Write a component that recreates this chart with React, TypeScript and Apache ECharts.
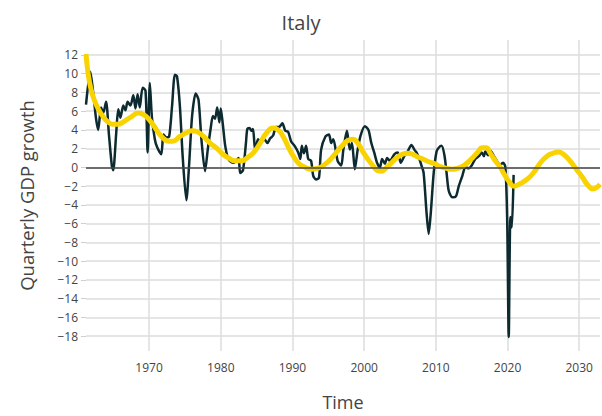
import React, { useEffect, useRef } from "react";
import * as echarts from "echarts";

// Quarterly GDP growth
const GDP_YEARS = [
  1961.2, 1961.8, 1962.2, 1962.6, 1962.9, 1963.3, 1963.6, 1964.0, 1964.4, 1964.8,
  1965.0, 1965.4, 1965.7, 1966.0, 1966.4, 1966.7, 1967.0, 1967.4, 1967.8, 1968.1,
  1968.4, 1968.7, 1969.1, 1969.5, 1969.8, 1970.1, 1970.4, 1970.8, 1971.1, 1971.7,
  1972.0, 1972.4, 1972.8, 1973.2, 1973.6, 1973.9, 1974.3, 1974.7, 1975.2, 1975.6,
  1976.0, 1976.5, 1976.9, 1977.3, 1977.8, 1978.2, 1978.6, 1978.9, 1979.2, 1979.5,
  1979.8, 1980.0, 1980.3, 1980.6, 1981.0, 1981.4, 1981.8, 1982.2, 1982.5, 1982.7,
  1983.1, 1983.5, 1983.7, 1984.0, 1984.3, 1984.5, 1984.8, 1985.2, 1985.6, 1986.1,
  1986.5, 1986.9, 1987.3, 1987.7, 1988.1, 1988.6, 1989.0, 1989.4, 1989.8, 1990.3,
  1990.8, 1991.1, 1991.3, 1991.6, 1991.9, 1992.2, 1992.6, 1992.9, 1993.3, 1993.7,
  1994.0, 1994.6, 1995.1, 1995.4, 1995.7, 1996.3, 1996.8, 1997.1, 1997.6, 1998.0,
  1998.3, 1998.7, 1999.1, 1999.5, 2000.1, 2000.6, 2001.0, 2001.4, 2001.8, 2002.2,
  2002.5, 2002.9, 2003.2, 2003.6, 2004.2, 2004.7, 2005.1, 2005.6, 2006.0, 2006.6,
  2007.0, 2007.3, 2007.7, 2008.0, 2008.3, 2008.7, 2009.0, 2009.3, 2009.7, 2010.1,
  2010.4, 2010.8, 2011.2, 2011.5, 2011.8, 2012.3, 2012.8, 2013.2, 2013.7, 2014.1,
  2014.6, 2015.0, 2015.5, 2016.0, 2016.4, 2016.7, 2016.9, 2017.3, 2017.6, 2018.1,
  2018.5, 2019.0, 2019.4, 2019.7, 2019.95, 2020.17, 2020.4, 2020.6, 2020.85,
];
const GDP_VALUES = [
  6.7, 10.2, 8.0, 5.2, 4.0, 6.4, 5.8, 7.0, 3.5, 0.2,
  -0.3, 3.5, 6.2, 5.3, 6.6, 6.1, 7.0, 6.6, 7.7, 6.3,
  7.8, 6.4, 8.5, 8.2, 1.6, 9.0, 5.3, 3.0, 2.2, 1.4,
  3.5, 3.2, 3.3, 6.5, 9.9, 9.7, 6.5, 1.0, -3.5, 0.5,
  5.5, 7.9, 7.2, 3.0, -0.4, 2.0, 4.2, 5.5, 5.2, 6.4,
  4.8, 6.3, 4.5, 2.4, 1.0, 0.6, 0.5, 0.8, 1.0, -0.6,
  -0.3, 2.5, 4.1, 4.2, 3.9, 4.1, 1.8, 3.0, 2.7, 3.0,
  2.6, 3.1, 3.4, 4.3, 4.3, 4.7, 3.9, 3.8, 2.8, 2.3,
  1.6, 0.9, 2.3, 1.5, 2.3, 0.9, 0.7, -0.9, -1.3, -1.1,
  1.9, 3.3, 3.5, 2.6, 3.0, 0.7, 0.2, 1.9, 3.9, 1.9,
  2.6, -0.2, 1.9, 3.4, 4.4, 4.0, 2.6, 1.6, 0.5, 0.0,
  0.9, 0.4, 1.0, 0.7, 1.4, 1.6, 0.5, 1.2, 1.6, 2.4,
  1.9, 1.6, 0.9, 0.2, -0.6, -4.8, -7.1, -4.8, -0.6, 1.7,
  2.1, 2.3, 1.3, -0.6, -2.5, -3.2, -3.1, -2.0, -0.9, 0.0,
  -0.1, 0.2, 0.9, 1.2, 1.6, 1.2, 1.7, 1.3, 1.8, 1.2,
  0.7, 0.3, 0.5, 0.0, -5.5, -18.1, -5.3, -6.4, -0.8,
];

// Smoothed trend / forecast (yellow)
const TREND_YEARS = [
  1961.2, 1961.5, 1961.85, 1962.3, 1962.8, 1963.5, 1964.2, 1965.0, 1965.6, 1966.5,
  1967.5, 1968.5, 1969.3, 1970.0, 1970.7, 1971.4, 1972.0, 1972.7, 1973.3, 1974.3,
  1975.2, 1976.0, 1976.7, 1977.6, 1978.5, 1979.5, 1980.3, 1981.1, 1982.0, 1982.9,
  1983.8, 1984.6, 1985.5, 1986.3, 1987.3, 1988.0, 1988.7, 1989.6, 1990.3, 1990.9,
  1991.8, 1992.6, 1993.5, 1994.3, 1995.1, 1995.9, 1996.8, 1997.6, 1998.4, 1999.1,
  1999.8, 2000.5, 2001.2, 2001.8, 2002.4, 2003.0, 2003.7, 2004.5, 2005.3, 2006.1,
  2006.8, 2007.5, 2008.2, 2009.0, 2009.8, 2010.6, 2011.5, 2012.3, 2013.0, 2013.7,
  2014.4, 2015.1, 2015.8, 2016.5, 2017.0, 2017.6, 2018.3, 2019.0, 2019.6, 2020.3,
  2020.9, 2021.6, 2022.7, 2023.6, 2024.6, 2025.5, 2026.3, 2027.1, 2027.8, 2028.6,
  2029.7, 2030.5, 2031.1, 2031.9, 2032.9,
];
const TREND_VALUES = [
  12.1, 10.0, 8.5, 7.3, 6.4, 5.5, 4.9, 4.6, 4.6, 4.9,
  5.4, 5.8, 5.6, 5.1, 4.4, 3.6, 3.1, 2.8, 2.8, 3.3,
  3.7, 3.9, 3.8, 3.3, 2.6, 2.0, 1.4, 1.0, 0.7, 0.7,
  1.1, 1.6, 2.6, 3.6, 4.2, 4.0, 3.3, 1.9, 1.0, 0.4,
  0.0, -0.2, -0.1, 0.2, 0.7, 1.4, 2.2, 2.8, 3.0, 2.6,
  1.7, 0.9, 0.2, -0.3, -0.4, -0.1, 0.4, 1.0, 1.4, 1.5,
  1.4, 1.1, 0.9, 0.6, 0.4, 0.1, -0.1, -0.2, -0.1, 0.1,
  0.5, 1.0, 1.6, 2.1, 2.1, 1.5, 0.7, 0.0, -0.8, -1.6,
  -2.0, -1.8, -1.3, -0.6, 0.5, 1.2, 1.5, 1.65, 1.4, 0.8,
  -0.3, -1.1, -1.8, -2.3, -1.8,
];

const X_TICKS = [1970, 1980, 1990, 2000, 2010, 2020, 2030];
const Y_TICKS = [-18, -16, -14, -12, -10, -8, -6, -4, -2, 0, 2, 4, 6, 8, 10, 12];

const FONT = "'Open Sans', 'Noto Sans', sans-serif";
const TEXT = "#444";
const GRID = "#dddddd";

const fmt = (v: number) => (v < 0 ? "\u2212" + Math.abs(v) : String(v));

export default function App() {
  const ref = useRef<HTMLDivElement>(null);
  useEffect(() => {
    if (!ref.current) return;
    const chart = echarts.init(ref.current, undefined, { renderer: "svg" });
    chart.setOption({
      animation: false,
      backgroundColor: "#fff",
      textStyle: { fontFamily: FONT },
      title: {
        text: "Italy",
        left: "center",
        top: 7,
        textStyle: { fontFamily: FONT, fontSize: 20, fontWeight: "normal", color: TEXT },
      },
      grid: { left: 86, right: 2, top: 40, bottom: 64 },
      xAxis: {
        type: "value",
        min: 1961.2,
        max: 2032.9,
        minInterval: 10,
        maxInterval: 10,
        name: "Time",
        nameLocation: "middle",
        nameGap: 42,
        nameTextStyle: { fontFamily: FONT, fontSize: 18, color: TEXT },
        axisLine: { show: false, onZero: false },
        axisTick: { show: false, customValues: X_TICKS },
        axisLabel: {
          customValues: X_TICKS,
          color: TEXT,
          fontSize: 12,
          margin: 10,
          fontFamily: FONT,
          formatter: (v: number) => String(Math.round(v)),
        },
        splitLine: { show: true, lineStyle: { color: GRID, width: 1.5 } },
      },
      yAxis: {
        type: "value",
        min: -19.6,
        max: 13.6,
        minInterval: 2,
        maxInterval: 2,
        name: "Quarterly GDP growth",
        nameLocation: "middle",
        nameGap: 50,
        nameTextStyle: { fontFamily: FONT, fontSize: 18.5, color: TEXT },
        axisLine: { show: false },
        axisTick: { show: true, length: 5, customValues: Y_TICKS, lineStyle: { color: "#d0d0d0" } },
        axisLabel: {
          customValues: Y_TICKS,
          color: TEXT,
          fontSize: 12,
          margin: 8,
          fontFamily: FONT,
          formatter: (v: number) => fmt(v),
        },
        splitLine: { show: true, lineStyle: { color: GRID, width: 1.5 } },
      },
      series: [
        {
          type: "line",
          data: GDP_YEARS.map((x, i) => [x, GDP_VALUES[i]]),
          showSymbol: false,
          smooth: 0.25,
          lineStyle: { color: "#0c2a30", width: 2.5 },
          z: 3,
          markLine: {
            silent: true,
            symbol: "none",
            label: { show: false },
            lineStyle: { color: "#444", width: 1.5, type: "solid" },
            data: [{ yAxis: 0 }],
          },
        },
        {
          type: "line",
          data: TREND_YEARS.map((x, i) => [x, TREND_VALUES[i]]),
          showSymbol: false,
          smooth: 0.5,
          lineStyle: { color: "#f8d300", width: 5 },
          z: 4,
        },
      ],
    });
    return () => chart.dispose();
  }, []);
  return (
    <div
      ref={ref}
      style={{ position: "fixed", left: 0, top: 0, width: 602, height: 416, background: "#fff" }}
    />
  );
}
